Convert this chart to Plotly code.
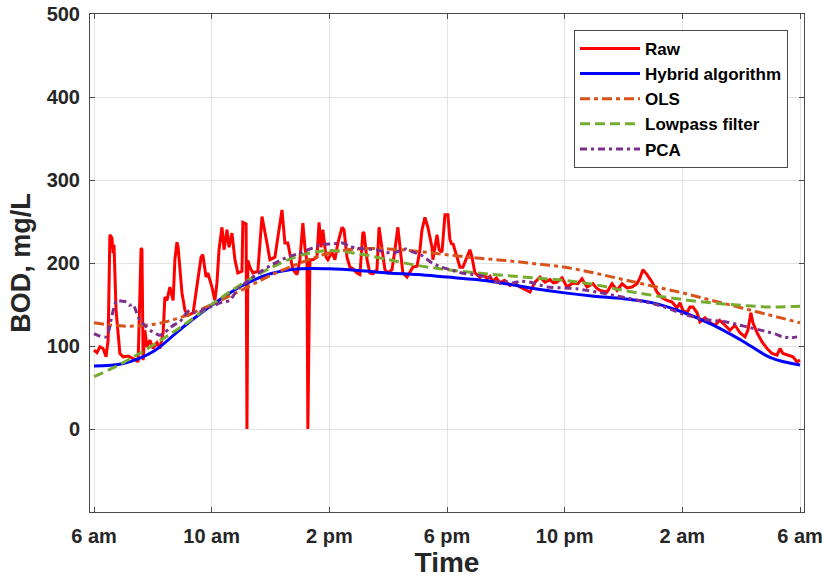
import plotly.graph_objects as go

# ---------------- data (hours after 6 am) ----------------
raw_t = [0.00, 0.10, 0.20, 0.31, 0.41, 0.48, 0.54, 0.61, 0.65, 0.68, 0.75, 0.88, 0.99, 1.16, 1.33, 1.50,
         1.60, 1.63, 1.67, 1.73, 1.80, 1.90, 2.01, 2.14, 2.24, 2.35, 2.41, 2.48, 2.58, 2.69, 2.75, 2.82,
         2.86, 2.92, 2.99, 3.09, 3.20, 3.37, 3.53, 3.64, 3.70, 3.81, 3.87, 4.01, 4.11, 4.18, 4.25, 4.35,
         4.42, 4.52, 4.59, 4.69, 4.79, 4.89, 5.03, 5.06, 5.17, 5.20, 5.23, 5.30, 5.40, 5.57, 5.71, 5.81,
         5.88, 5.98, 6.15, 6.39, 6.42, 6.49, 6.59, 6.76, 6.90, 7.00, 7.10, 7.17, 7.24, 7.27, 7.34, 7.44,
         7.58, 7.65, 7.72, 7.78, 7.89, 7.95, 8.09, 8.19, 8.29, 8.43, 8.50, 8.60, 8.70, 8.80, 8.94, 9.04,
         9.14, 9.18, 9.28, 9.38, 9.48, 9.62, 9.69, 9.79, 9.89, 9.99, 10.13, 10.23, 10.33, 10.44, 10.50,
         10.64, 10.74, 10.84, 10.98, 11.08, 11.15, 11.25, 11.35, 11.49, 11.52, 11.66, 11.73, 11.83, 11.93,
         12.03, 12.10, 12.17, 12.20, 12.34, 12.44, 12.54, 12.68, 12.78, 12.85, 12.95, 13.12, 13.25, 13.36,
         13.46, 13.56, 13.68, 13.80, 13.95, 14.14, 14.30, 14.48, 14.60, 14.72, 14.82, 14.99, 15.16, 15.33,
         15.50, 15.62, 15.74, 15.91, 16.08, 16.28, 16.45, 16.59, 16.76, 16.96, 17.08, 17.20, 17.44, 17.61,
         17.78, 17.95, 18.12, 18.29, 18.46, 18.56, 18.66, 18.80, 18.97, 19.14, 19.31, 19.48, 19.65, 19.82,
         19.92, 20.02, 20.16, 20.26, 20.36, 20.50, 20.60, 20.77, 20.94, 21.11, 21.27, 21.45, 21.62, 21.79,
         21.96, 22.13, 22.23, 22.33, 22.40, 22.54, 22.71, 22.88, 23.05, 23.22, 23.32, 23.42, 23.59, 23.76,
         23.90, 24.00]
raw_v = [95, 92, 99, 97, 87, 107, 234, 230, 212, 222, 143, 91, 87, 88, 85, 81,
         218, 216, 83, 119, 99, 107, 97, 104, 97, 116, 159, 155, 171, 155, 204, 225,
         219, 195, 164, 143, 137, 140, 180, 207, 210, 183, 188, 171, 155, 176, 216, 243,
         216, 240, 219, 236, 204, 188, 190, 249, 247, 0, 203, 195, 188, 190, 256, 234,
         224, 204, 207, 264, 252, 224, 224, 192, 186, 204, 248, 219, 201, 0, 204, 204,
         207, 249, 219, 240, 207, 204, 213, 204, 224, 243, 240, 207, 195, 193, 188, 186,
         237, 236, 204, 188, 187, 192, 243, 219, 192, 188, 192, 216, 243, 207, 188,
         183, 189, 195, 196, 216, 240, 255, 243, 219, 204, 234, 216, 213, 258,
         258, 228, 222, 224, 207, 195, 195, 206, 216, 207, 188, 183, 186, 181,
         184, 178, 182, 176, 179, 173, 176, 171, 169, 167, 165, 177, 183, 177,
         180, 176, 177, 182, 171, 176, 175, 181, 171, 175, 170, 167, 165, 175,
         167, 175, 170, 171, 175, 182, 192, 186, 177, 165, 158, 155, 153, 146,
         152, 143, 140, 147, 147, 140, 129, 134, 128, 125, 131, 125, 119, 125,
         116, 111, 119, 140, 128, 116, 105, 97, 91, 89, 97, 91, 89, 87,
         81, 83]

smooth_t = [0, 1, 2, 3, 4, 5, 6, 7, 8, 9, 10, 11, 12, 13, 14, 15, 16, 17, 18, 19, 20, 21, 22, 23, 24]
hybrid_v = [76, 79, 93, 122, 149, 172, 187, 193, 193, 191, 188, 186, 183, 180, 175, 169,
            164, 160, 157, 152, 141, 126, 107, 86, 77]
ols_v = [128, 124, 126, 135, 150, 167, 185, 200, 212, 217, 217, 214, 210, 206, 203, 199,
         195, 188, 180, 172, 164, 155, 146, 137, 128]
lowpass_v = [63, 80, 101, 124, 150, 174, 194, 209, 215, 211, 204, 197, 192, 188, 185, 182,
             179, 174, 167, 161, 156, 152, 149, 147, 148]

pca_t = [0.00, 0.20, 0.43, 0.60, 0.77, 0.95, 1.10, 1.20, 1.33, 1.45, 1.56, 1.75, 1.90, 2.10, 2.24,
         2.40, 2.58, 2.75, 2.92, 3.10, 3.26, 3.45, 3.60, 3.80, 3.94, 4.10, 4.28, 4.45, 4.62, 4.80,
         4.96, 5.15, 5.30, 5.50, 5.64, 6.00, 6.32, 6.65, 7.00, 7.35, 7.70, 8.10, 8.46, 8.70, 8.90,
         9.20, 9.60, 9.90, 10.20, 10.40, 10.60, 10.85, 11.10, 11.30, 11.50, 11.80, 12.20, 12.50,
         12.90, 13.40, 13.70, 14.00, 14.25, 14.50, 14.80, 15.10, 15.40, 16.00, 16.40, 16.75, 17.10,
         17.40, 17.80, 18.10, 18.50, 18.90, 19.30, 19.70, 20.05, 20.40, 20.70, 21.00, 21.25, 21.50,
         21.85, 22.20, 22.55, 22.90, 23.20, 23.40, 23.70, 23.90]
pca_v = [115, 112, 111, 135, 155, 154, 153, 149, 150, 140, 131, 124, 119, 115, 113,
         116, 122, 126, 129, 138, 143, 140, 141, 146, 147, 149, 152, 153, 155, 164,
         171, 176, 180, 186, 189, 197, 203, 208, 212, 217, 222, 223, 224, 220, 218,
         217, 216, 213, 212, 215, 217, 213, 210, 205, 200, 195, 191, 188,
         186, 183, 177, 178, 176, 178, 177, 174, 171, 170, 169, 167, 165,
         163, 160, 158, 155, 152, 148, 143, 138, 135, 132, 131, 130, 129,
         126, 123, 120, 117, 114, 111, 110, 111]

tick_hours = [0, 4, 8, 12, 16, 20, 24]
tick_labels = ["6 am", "10 am", "2 pm", "6 pm", "10 pm", "2 am", "6 am"]
y_ticks = [0, 100, 200, 300, 400, 500]

# ---------------- figure ----------------
FONT = "Liberation Sans, Arial, sans-serif"
fig = go.Figure()
fig.add_trace(go.Scatter(x=raw_t, y=raw_v, mode="lines", name="Raw",
                         line=dict(color="#FF0000", width=3)))
fig.add_trace(go.Scatter(x=smooth_t, y=hybrid_v, mode="lines", name="Hybrid algorithm",
                         line=dict(color="#0000FF", width=3, shape="spline")))
fig.add_trace(go.Scatter(x=smooth_t, y=ols_v, mode="lines", name="OLS",
                         line=dict(color="#D95319", width=3, shape="spline", dash="10px,4px,4px,4px")))
fig.add_trace(go.Scatter(x=smooth_t, y=lowpass_v, mode="lines", name="Lowpass filter",
                         line=dict(color="#77AC30", width=3, shape="spline", dash="10px,5px")))
fig.add_trace(go.Scatter(x=pca_t, y=pca_v, mode="lines", name="PCA",
                         line=dict(color="#7E2F8E", width=3, shape="spline", smoothing=0.6,
                                   dash="7px,4px,3px,4px")))

axis_common = dict(showline=True, linecolor="#4a4a4a", linewidth=1, mirror="ticks",
                   ticks="inside", ticklen=5, tickcolor="#4a4a4a",
                   showgrid=True, gridcolor="#e3e3e3", gridwidth=1, zeroline=False,
                   tickfont=dict(family=FONT, size=20, color="#262626", weight="bold"),
                   automargin=False)

fig.update_xaxes(range=[-0.136, 24.136], tickvals=tick_hours, ticktext=tick_labels,
                 ticklabelstandoff=6,
                 title=dict(text="Time", standoff=4,
                            font=dict(family=FONT, size=28, color="#262626", weight="bold")),
                 **axis_common)
fig.update_yaxes(range=[-100, 500], tickvals=y_ticks, ticklabelstandoff=5,
                 title=dict(text="BOD, mg/L", standoff=8,
                            font=dict(family=FONT, size=27, color="#262626", weight="bold")),
                 **axis_common)

fig.update_layout(
    width=824, height=579,
    margin=dict(l=90, r=20, t=14, b=67, pad=0),
    plot_bgcolor="white", paper_bgcolor="white",
    legend=dict(x=0.9776, y=0.968, xanchor="right", yanchor="top",
                bgcolor="white", bordercolor="#4a4a4a", borderwidth=1,
                font=dict(family=FONT, size=17, color="#000000", weight="bold"),
                itemwidth=60),
    showlegend=True,
)

fig.write_html("out.html")
